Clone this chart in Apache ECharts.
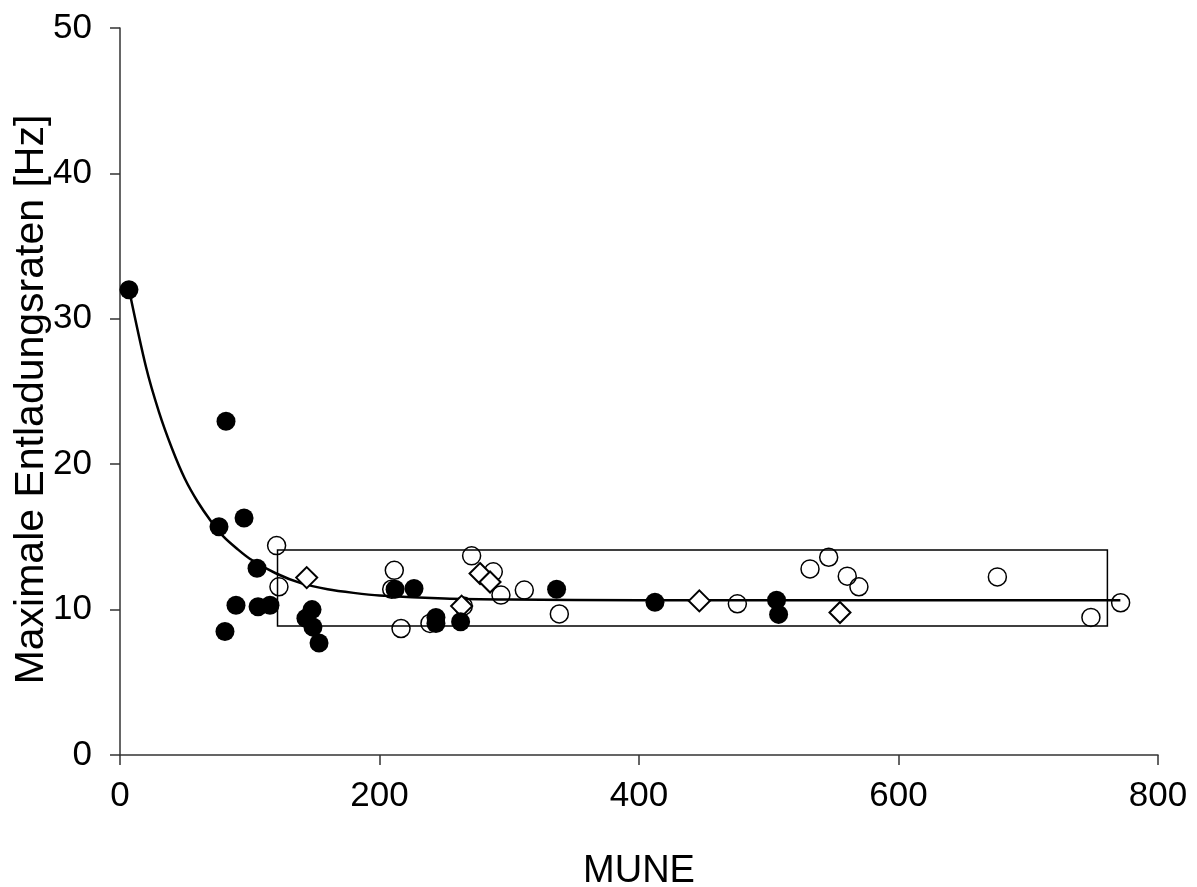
<!DOCTYPE html>
<html>
<head>
<meta charset="utf-8">
<script src="https://cdn.jsdelivr.net/npm/echarts@6/dist/echarts.min.js"></script>
<style>
  html, body { margin: 0; padding: 0; background: #fff; }
  #chart { width: 1197px; height: 887px; }
</style>
</head>
<body>
<div id="chart"></div>
<script>
// filled circles
var filledX = [6.9, 81.7, 76.3, 95.6, 105.6, 89.4, 106.4, 115.6, 80.9, 148, 143.3, 148.7, 153.4, 212, 226.6, 243.5, 243.5, 262.5, 336.5, 412.3, 506, 507.6];
var filledY = [32.0, 22.95, 15.7, 16.3, 12.85, 10.3, 10.2, 10.3, 8.5, 10.0, 9.4, 8.8, 7.7, 11.4, 11.45, 9.46, 9.05, 9.16, 11.4, 10.5, 10.65, 9.67];

// open circles
var openX = [120.7, 122.5, 211.4, 209.4, 216.6, 238.9, 264.6, 271, 287.7, 293.6, 311.6, 338.6, 475.8, 531.8, 546.2, 560.5, 569.5, 676.2, 748.3, 771.2];
var openY = [14.4, 11.57, 12.7, 11.4, 8.7, 9.05, 10.24, 13.7, 12.6, 11.0, 11.34, 9.7, 10.4, 12.8, 13.6, 12.3, 11.57, 12.25, 9.46, 10.47];

// diamonds
var diamondX = [143.9, 263.3, 277.5, 285.2, 446.5, 554.9];
var diamondY = [12.2, 10.24, 12.48, 11.9, 10.6, 9.8];

// fitted curve
var curveX = [7, 20, 30, 40, 50, 60, 70, 80, 90, 100, 120, 140, 160, 180, 200, 250, 300, 400, 771];
var curveY = [32.0, 26.7, 23.6, 21.1, 19.0, 17.4, 16.1, 15.0, 14.2, 13.5, 12.5, 11.8, 11.4, 11.15, 10.97, 10.76, 10.69, 10.65, 10.65];

// box [x1, y1, x2, y2]
var boxRange = [121.4, 14.1, 761, 8.87];

var xTicks = [0, 200, 400, 600, 800];
var yTicks = [0, 10, 20, 30, 40, 50];

function zip(xs, ys) {
  return xs.map(function (x, i) { return [x, ys[i]]; });
}

var font = 'Liberation Sans, Arial, sans-serif';
var chart = echarts.init(document.getElementById('chart'), null, { renderer: 'canvas' });

var option = {
  backgroundColor: '#fff',
  animation: false,
  grid: { left: 120, right: 39, top: 28, bottom: 132, containLabel: false, outerBoundsMode: 'none' },
  xAxis: {
    type: 'value',
    min: xTicks[0],
    max: xTicks[xTicks.length - 1],
    interval: 200,
    name: 'MUNE',
    nameLocation: 'middle',
    nameGap: 98,
    nameMoveOverlap: false,
    nameTextStyle: { fontFamily: font, fontSize: 38, color: '#000' },
    axisLine: { lineStyle: { color: '#333', width: 1.5 } },
    axisTick: { show: true, inside: false, length: 10, lineStyle: { color: '#333', width: 1.5 } },
    axisLabel: { margin: 24, fontFamily: font, fontSize: 35, color: '#000' },
    splitLine: { show: false }
  },
  yAxis: {
    type: 'value',
    min: yTicks[0],
    max: yTicks[yTicks.length - 1],
    interval: 10,
    name: 'Maximale Entladungsraten [Hz]',
    nameLocation: 'middle',
    nameGap: 68,
    nameMoveOverlap: false,
    nameTextStyle: { fontFamily: font, fontSize: 41, color: '#000', padding: [0, 16, 0, 0] },
    axisLine: { show: true, lineStyle: { color: '#333', width: 1.5 } },
    axisTick: { show: true, inside: false, length: 10, lineStyle: { color: '#333', width: 1.5 } },
    axisLabel: { margin: 28, fontFamily: font, fontSize: 35, color: '#000' },
    splitLine: { show: false }
  },
  series: [
    {
      type: 'line',
      data: zip(curveX, curveY),
      smooth: 0.3,
      showSymbol: false,
      lineStyle: { color: '#000', width: 2.5 },
      z: 2,
      markArea: {
        silent: true,
        itemStyle: { color: 'rgba(0,0,0,0)', borderColor: '#000', borderWidth: 1.5 },
        data: [[{ coord: [boxRange[0], boxRange[1]] }, { coord: [boxRange[2], boxRange[3]] }]]
      }
    },
    {
      type: 'scatter',
      data: zip(openX, openY),
      symbol: 'circle',
      symbolSize: 18,
      itemStyle: { color: 'rgba(255,255,255,0)', borderColor: '#000', borderWidth: 1.5, opacity: 1 },
      z: 3
    },
    {
      type: 'scatter',
      data: zip(diamondX, diamondY),
      symbol: 'diamond',
      symbolSize: 21,
      itemStyle: { color: '#fff', borderColor: '#000', borderWidth: 2, opacity: 1 },
      z: 4
    },
    {
      type: 'scatter',
      data: zip(filledX, filledY),
      symbol: 'circle',
      symbolSize: 19,
      itemStyle: { color: '#000', opacity: 1 },
      z: 5
    }
  ]
};

chart.setOption(option);
</script>
</body>
</html>
